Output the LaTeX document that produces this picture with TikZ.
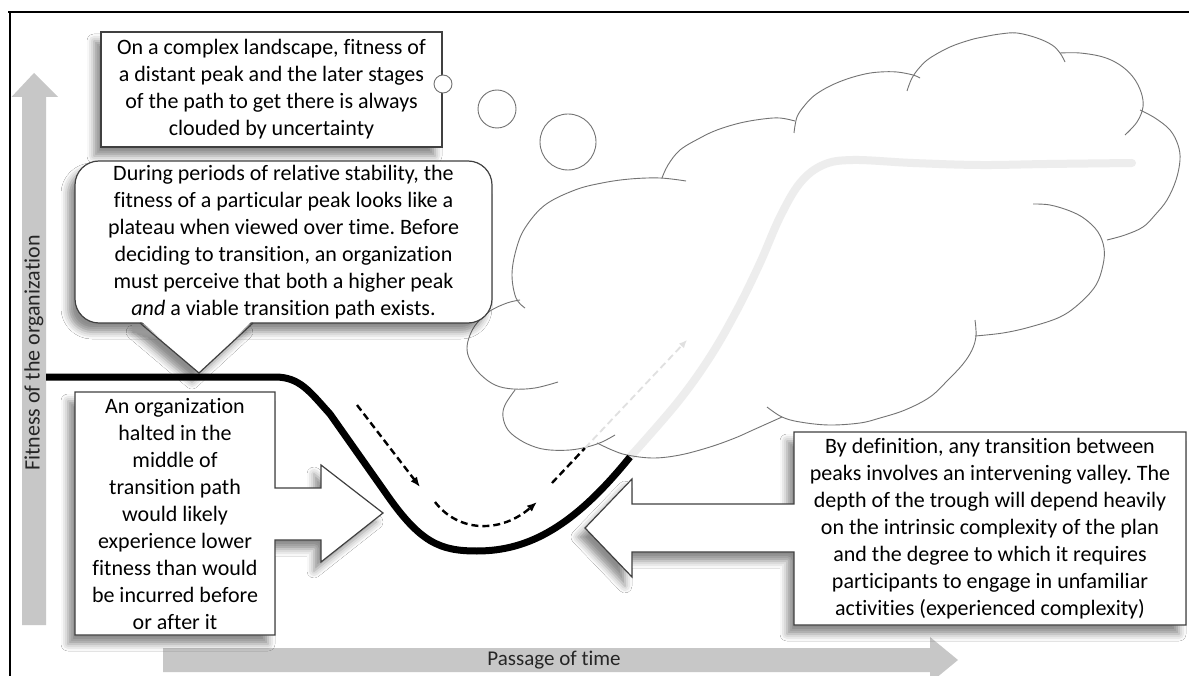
\documentclass[tikz,border=0pt]{standalone}
\usepackage{fontspec}
\setmainfont{Carlito}[Ligatures={NoCommon}]
\frenchspacing
\usetikzlibrary{arrows.meta,shadows.blur}
\begin{document}
\begin{tikzpicture}[x=1pt,y=-1pt,
  txt/.style={font=\fontsize{22}{27}\selectfont, align=center, inner sep=0pt},
  boxline/.style={draw=black!75, line width=1.2pt},
  shad/.style={blur shadow={shadow xshift=-7pt, shadow yshift=-9pt, shadow blur radius=7pt, shadow opacity=45}},
  axisarrow/.style={fill=black!22, draw=none},
  cloudline/.style={draw=black!55, line width=0.9pt},
  dasharrow/.style={line width=2.4pt, dash pattern=on 7pt off 4pt},
  tipstyle/.style={-{Latex[length=10pt,width=8pt]}},
]
\useasboundingbox (0,0) rectangle (1189,676);
\fill[white] (0,0) rectangle (1189,676);

% frame
\draw[line width=2pt] (8,12) -- (1189,12);
\draw[line width=2pt] (10,12) -- (10,676);

% axis arrows
\fill[axisarrow] (22,625) -- (22,97) -- (11.5,97) -- (34,73) -- (58,97) -- (46,97) -- (46,625) -- cycle;
\node[font=\fontsize{22}{27}\selectfont, rotate=90, text=black!85] (yaxis) at (34,353) {Fitness of the organization};
\fill[axisarrow] (163,648) -- (930,648) -- (930,637) -- (958,660) -- (930,683) -- (930,672) -- (163,672) -- cycle;
\node[font=\fontsize{21}{26}\selectfont, text=black!85] (xaxis) at (554,660) {Passage of time};

% faded path inside the cloud
\draw[line width=8pt, color=black!7, line cap=round] plot[smooth, tension=0.6] coordinates {(630,457) (677,403) (710,357) (737,310) (760,263) (780,217) (800,183) (823,165) (853,160) (913,163) (980,165) (1047,164) (1132,163)};

% cloud
\begin{scope}[cloudline]
\draw plot[smooth, tension=0.6] coordinates {(558,382) (535,388) (513,389) (495,385) (480,374) (470,360) (467,348) (470,335) (477,323) (490,311) (507,303) (520,300)};
\draw plot[smooth, tension=0.6] coordinates {(525,308) (516,298) (512,275) (516,250) (525,228) (545,205) (575,190) (602,183) (630,179) (660,178) (686,181)};
\draw plot[smooth, tension=0.6] coordinates {(662,178) (668,165) (680,150) (700,138) (717,130) (740,123) (763,119) (780,118) (795,121)};
\draw plot[smooth, tension=0.6] coordinates {(794,133) (797,117) (805,105) (815,95) (830,86) (847,79) (865,74) (880,72) (897,72) (913,75) (920,78)};
\draw plot[smooth, tension=0.6] coordinates {(907,91) (912,78) (920,67) (930,58) (950,47) (970,40) (983,37) (1000,34) (1017,33) (1037,38) (1052,45) (1060,53) (1065,62)};
\draw plot[smooth, tension=0.6] coordinates {(1060,53) (1080,53) (1103,57) (1120,65) (1133,77) (1141,92) (1143,107) (1137,122) (1125,135)};
\draw plot[smooth, tension=0.6] coordinates {(1140,110) (1155,118) (1170,130) (1178,145) (1180,160) (1176,180) (1167,200) (1155,215) (1143,227) (1125,235) (1107,240)};
\draw plot[smooth, tension=0.6] coordinates {(1033,204) (1050,205) (1070,211) (1085,219) (1098,232) (1104,248) (1103,265) (1096,285) (1080,303) (1060,317) (1030,327) (1003,333) (975,336)};
\draw plot[smooth, tension=0.6] coordinates {(975,320) (976,336) (972,350) (963,364) (948,380) (930,397) (905,410) (880,418) (860,423) (829,425) (800,422) (782,417) (767,407)};
\draw plot[smooth, tension=0.6] coordinates {(597,443) (612,450) (627,455) (653,458) (680,455) (710,447) (735,438) (753,430) (782,417)};
\draw plot[smooth, tension=0.6] coordinates {(515,390) (505,405) (503,417) (508,430) (520,440) (535,447) (550,450) (570,450) (587,447) (602,442) (615,435)};
\end{scope}

% thought bubbles
\draw[cloudline, fill=white] (568,142) circle (28);
\draw[cloudline, fill=white] (497,109) circle (19);

% top box
\node[txt, boxline, fill=white, shad, minimum width=341pt, minimum height=115pt] (topbox) at (271.5,89.5)
  {On a complex landscape, fitness of\\ a distant peak and the later stages\\ of the path to get there is always\\ clouded by uncertainty};
\draw[cloudline, fill=white] (443,84) circle (9);

% callout
\path[shad, fill=white] (140,323) -- (199,373) -- (253,323) -- cycle;
\node[txt, boxline, fill=white, shad, rounded corners=24pt, minimum width=417pt, minimum height=162pt] (callout) at (283.5,242)
  {During periods of relative stability, the\\ fitness of a particular peak looks like a\\ plateau when viewed over time. Before\\ deciding to transition, an organization\\ must perceive that both a higher peak\\ \textit{and} a viable transition path exists.};
\fill[white] (141,321) -- (199,372) -- (252,321) -- cycle;
\draw[boxline] (140,323) -- (199,373) -- (253,323);

% black fitness curve
\draw[line width=7pt, line join=round] (46,377) -- (275,377) .. controls (300,377) and (310,392) .. (330,414) -- (385,492) .. controls (420,543) and (440,551) .. (477,551) .. controls (530,551) and (575,525) .. (630,457);

% dashed arrows
\coordinate (a1s) at (357,405); \coordinate (a1e) at (420,487);
\draw[dasharrow, tipstyle] (a1s) -- (a1e);
\coordinate (a2s) at (435,502); \coordinate (a2e) at (537,502);
\draw[dasharrow, tipstyle] (a2s) .. controls (458,532) and (500,534) .. (a2e);
\coordinate (a3s) at (552,483); \coordinate (a3m) at (585,448); \coordinate (a3e) at (687,340);
\draw[dasharrow] (a3s) -- (a3m);
\draw[dasharrow, line width=1.8pt, color=black!12, -{Latex[length=8pt,width=7pt]}] (a3m) -- (a3e);

% left arrow box
\draw[boxline, fill=white, shad] (75,392) -- (275,392) -- (275,488) -- (321,488) -- (321,465) -- (383,513) -- (321,562) -- (321,540) -- (275,540) -- (275,635) -- (75,635) -- cycle;
\node[txt] (leftbox) at (175,514)
  {An organization\\ halted in the\\ middle of\\ transition path\\ would likely\\ experience lower\\ fitness than would\\ be incurred before\\ or after it};

% right arrow box
\draw[boxline, fill=white, shad] (794,432) -- (1186,432) -- (1186,625) -- (794,625) -- (794,552) -- (632,552) -- (632,577) -- (585,528) -- (632,479) -- (632,504) -- (794,504) -- cycle;
\node[txt] (rightbox) at (990,529)
  {By definition, any transition between\\ peaks involves an intervening valley. The\\ depth of the trough will depend heavily\\ on the intrinsic complexity of the plan\\ and the degree to which it requires\\ participants to engage in unfamiliar\\ activities (experienced complexity)};
\end{tikzpicture}
\end{document}
